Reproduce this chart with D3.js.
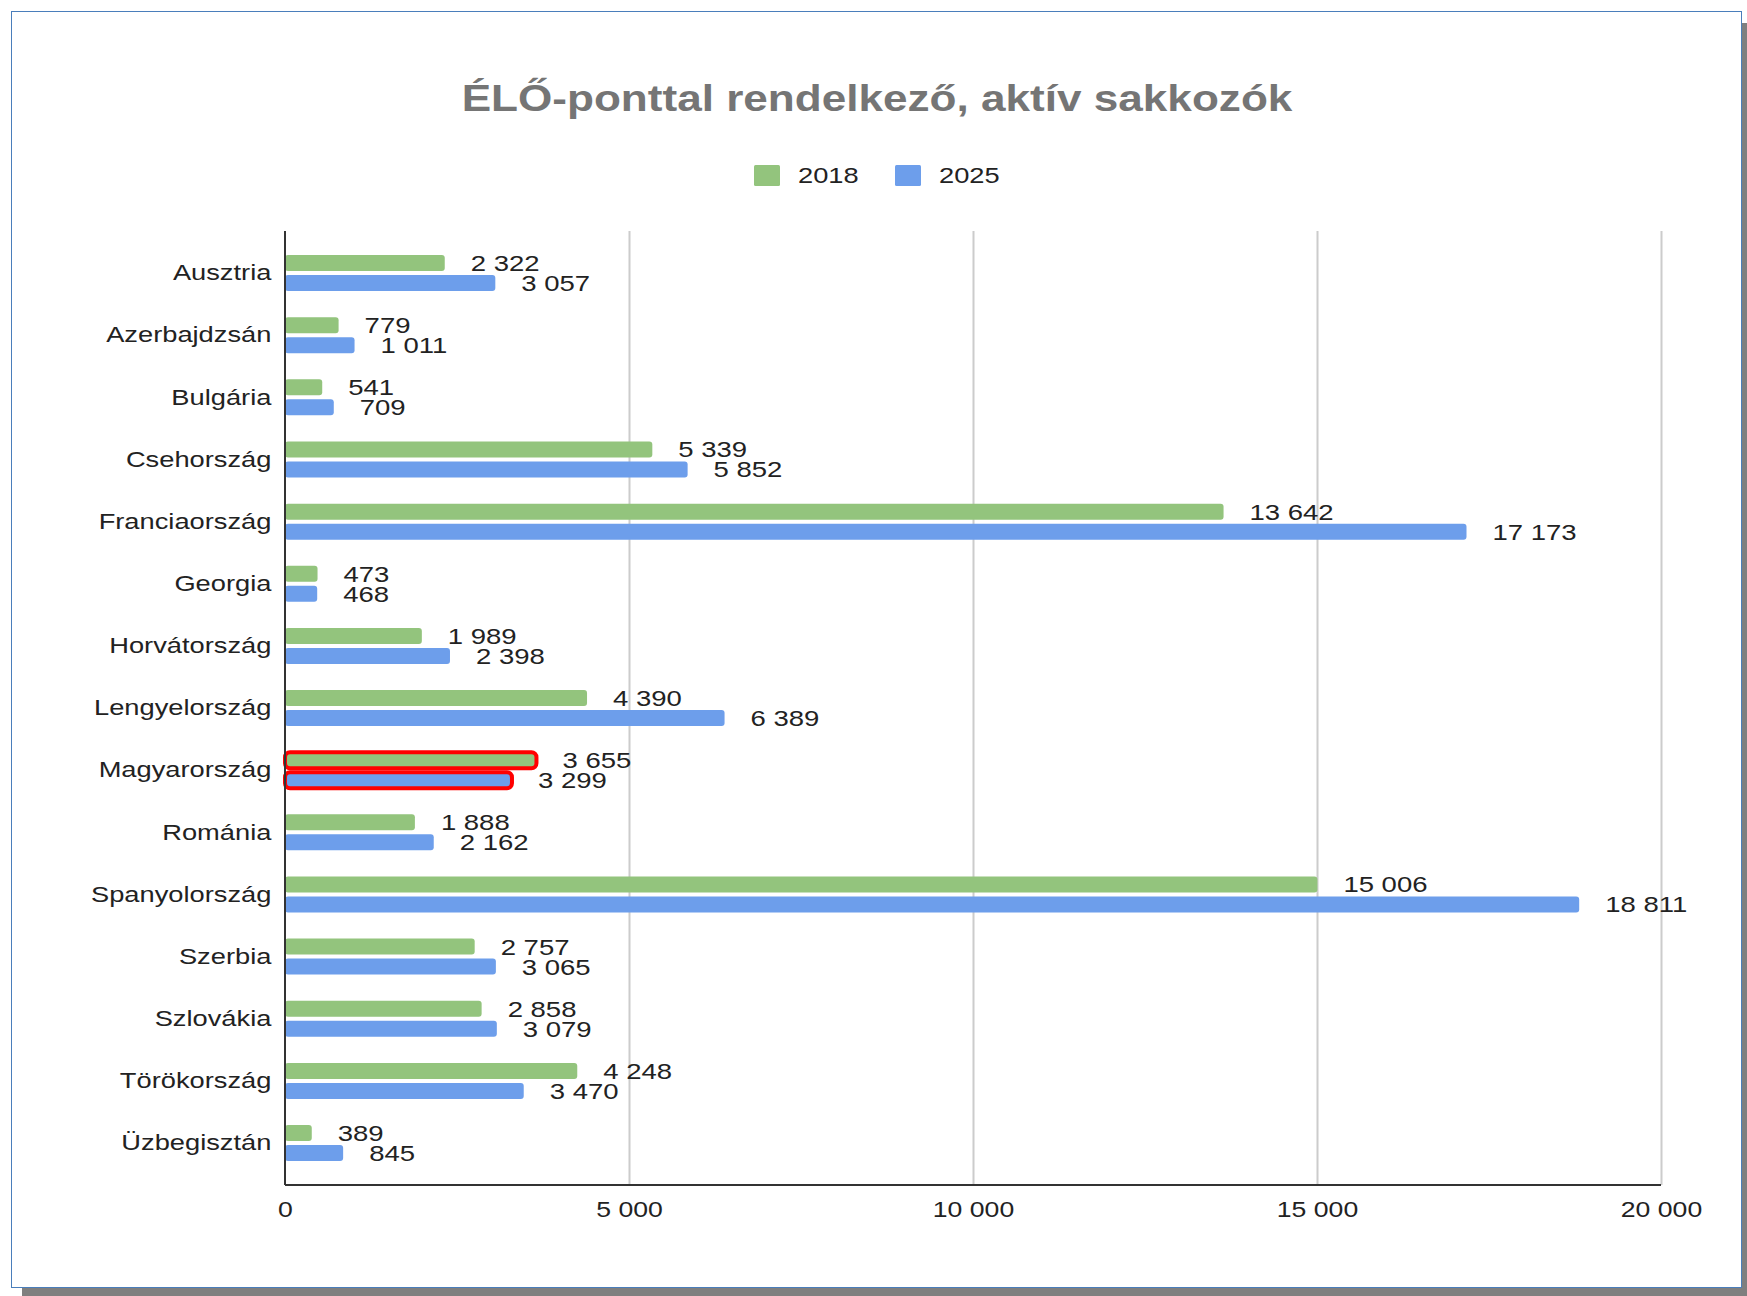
<!DOCTYPE html>
<html>
<head>
<meta charset="utf-8">
<script src="https://cdn.jsdelivr.net/npm/d3@7"></script>
<style>
  html, body { margin: 0; padding: 0; background: #ffffff; }
  svg { display: block; }
  text { font-family: "Liberation Sans", Arial, sans-serif; }
</style>
</head>
<body>
<svg id="chart" width="1747" height="1296"></svg>
<script>
// ---- data ----
const categories = ["Ausztria","Azerbajdzsán","Bulgária","Csehország","Franciaország","Georgia","Horvátország","Lengyelország","Magyarország","Románia","Spanyolország","Szerbia","Szlovákia","Törökország","Üzbegisztán"];
const seriesNames = ["2018", "2025"];
const values2018 = [2322, 779, 541, 5339, 13642, 473, 1989, 4390, 3655, 1888, 15006, 2757, 2858, 4248, 389];
const values2025 = [3057, 1011, 709, 5852, 17173, 468, 2398, 6389, 3299, 2162, 18811, 3065, 3079, 3470, 845];
const xTicks = [0, 5000, 10000, 15000, 20000];
const highlighted = ["Magyarország"];
const titleText = "ÉLŐ-ponttal rendelkező, aktív sakkozók";

// ---- styles ----
const colors = {"2018": "#93c47d", "2025": "#6d9eeb"};
const SX = 1.24; // horizontal stretch of text seen in the reference
const FS = 22;
const loc = d3.formatLocale({decimal: ",", thousands: "\u00a0", grouping: [3], currency: ["", ""]});
const fmt = loc.format(",d");

const svg = d3.select("#chart");

// frame with shadow
svg.append("rect").attr("x", 22).attr("y", 23).attr("width", 1747 - 22).attr("height", 1296 - 23).attr("fill", "#7f7f7f");
svg.append("rect").attr("x", 11.5).attr("y", 11.5).attr("width", 1730).attr("height", 1276)
  .attr("fill", "#ffffff").attr("stroke", "#4a7ebb").attr("stroke-width", 1);

// layout
const plotLeft = 285, plotRight = 1661, plotTop = 231, plotBottom = 1185;
const x = d3.scaleLinear().domain([0, 20000]).range([plotLeft, plotRight]);
const y = d3.scaleBand().domain(categories).range([242, 242 + 15 * 62.14]).padding(0);
const ySub = d3.scaleBand().domain(seriesNames).range([y.bandwidth() / 2 - 18, y.bandwidth() / 2 + 18]).paddingInner(0.2);

// title
svg.append("g").attr("transform", `translate(877,111) scale(1.225,1)`)
  .append("text").attr("text-anchor", "middle").attr("font-size", 36).attr("font-weight", "bold")
  .attr("fill", "#757575").text(titleText);

// legend
const legendItems = [{name: "2018", sx: 754, tx: 798}, {name: "2025", sx: 895, tx: 939}];
const lg = svg.append("g");
lg.selectAll("rect").data(legendItems).join("rect")
  .attr("x", d => d.sx).attr("y", 165).attr("width", 26).attr("height", 21).attr("rx", 1.5)
  .attr("fill", d => colors[d.name]);
lg.selectAll("g.lt").data(legendItems).join("g").attr("class", "lt")
  .attr("transform", d => `translate(${d.tx},183) scale(${SX},1)`)
  .append("text").attr("font-size", FS).attr("fill", "#222").text(d => d.name);

// gridlines
const grid = svg.append("g").attr("transform", `translate(0,${plotTop})`)
  .call(d3.axisBottom(x).tickValues(xTicks.slice(1)).tickSize(plotBottom - plotTop).tickFormat(""));
grid.select(".domain").remove();
grid.selectAll("line").attr("stroke", "#cccccc").attr("stroke-width", 2);

// x axis labels
const xAxis = svg.append("g").attr("transform", `translate(0,${plotBottom})`)
  .call(d3.axisBottom(x).tickValues(xTicks).tickSize(0).tickPadding(16).tickFormat(fmt));
xAxis.select(".domain").remove();
xAxis.selectAll("text").attr("font-size", FS).attr("fill", "#222").attr("font-family", "Liberation Sans, Arial, sans-serif")
  .attr("transform", `scale(1.21,1)`).attr("dy", "0.71em");

// bars
const rows = categories.map((c, i) => ({cat: c, vals: [{s: "2018", v: values2018[i]}, {s: "2025", v: values2025[i]}]}));
const rowG = svg.append("g").selectAll("g").data(rows).join("g")
  .attr("transform", d => `translate(0,${y(d.cat)})`);
rowG.selectAll("rect").data(d => d.vals.map(v => ({...v, cat: d.cat}))).join("rect")
  .attr("x", x(0)).attr("y", d => ySub(d.s)).attr("height", ySub.bandwidth())
  .attr("width", d => x(d.v) - x(0)).attr("rx", d => highlighted.includes(d.cat) ? 5 : 3)
  .attr("fill", d => colors[d.s])
  .attr("stroke", d => highlighted.includes(d.cat) ? "#ff0000" : "none")
  .attr("stroke-width", 4);
rowG.selectAll("g.vl").data(d => d.vals).join("g").attr("class", "vl")
  .attr("transform", d => `translate(${x(d.v) + 26},${ySub(d.s) + ySub.bandwidth() / 2 + 8}) scale(1.25,1)`)
  .append("text").attr("font-size", FS).attr("fill", "#222").text(d => fmt(d.v));

// y axis
const yAxis = svg.append("g").attr("transform", `translate(${plotLeft},0)`)
  .call(d3.axisLeft(y).tickSize(0).tickPadding(11));
yAxis.select(".domain").remove();
yAxis.selectAll("text").attr("font-size", FS).attr("fill", "#222").attr("font-family", "Liberation Sans, Arial, sans-serif")
  .attr("transform", `scale(${SX},1)`).attr("dy", "0.33em");

// axis lines
svg.append("line").attr("x1", plotLeft).attr("x2", plotLeft).attr("y1", plotTop).attr("y2", plotBottom)
  .attr("stroke", "#333333").attr("stroke-width", 2);
svg.append("line").attr("x1", plotLeft).attr("x2", plotRight).attr("y1", plotBottom).attr("y2", plotBottom)
  .attr("stroke", "#333333").attr("stroke-width", 2);
</script>
</body>
</html>
